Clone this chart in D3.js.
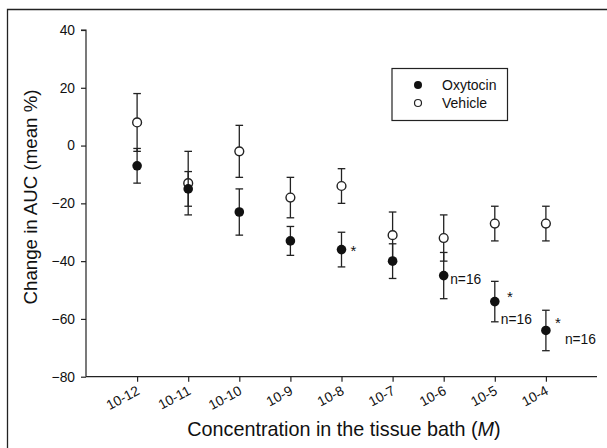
<!DOCTYPE html>
<html><head><meta charset="utf-8">
<script src="https://cdn.jsdelivr.net/npm/d3@7"></script>
<style>body{margin:0;background:#fff}svg{display:block}text{font-family:Arial,"Liberation Sans",sans-serif;fill:#111}</style>
</head><body>
<script>
const categories = ["10-12","10-11","10-10","10-9","10-8","10-7","10-6","10-5","10-4"];
const oxytocinMean = [-7,-15,-23,-33,-36,-40,-45,-54,-64];
const oxytocinErr  = [6,6,8,5,6,6,8,7,7];
const vehicleMean  = [8,-13,-2,-18,-14,-31,-32,-27,-27];
const vehicleErr   = [10,11,9,7,6,8,8,6,6];
const yTicks = [40,20,0,-20,-40,-60,-80];
const stars = ["10-8","10-5","10-4"];
const nLabels = ["10-6","10-5","10-4"];

const W=607,H=448;
const svg=d3.select("body").append("svg").attr("width",W).attr("height",H);
svg.append("path").attr("d",`M7.5,${H+2}V9.5H${W+2}`).attr("fill","none").attr("stroke","#222").attr("stroke-width",1.3);

const y=d3.scaleLinear().domain([-80,40]).range([376.7,30]);
const xi=d3.scaleLinear().domain([0,10]).range([86,597]);
const x=c=>xi(categories.indexOf(c)+1);

const col="#222";
// y axis
const gy=svg.append("g").attr("transform","translate(86,0)")
  .call(d3.axisLeft(y).tickValues(yTicks).tickSize(5).tickPadding(6).tickFormat(d3.format("d")));
gy.select(".domain").attr("stroke",col).attr("stroke-width",1.2).attr("d",`M-5,${y(40)}H0V${y(-80)}`);
gy.selectAll(".tick line").attr("stroke",col).attr("stroke-width",1.2);
gy.selectAll(".tick text").style("font-size","13.8px").attr("fill","#111");
// x axis
const gx=svg.append("g").attr("transform",`translate(0,${y(-80)})`)
  .call(d3.axisBottom(xi).tickValues(d3.range(1,10)).tickSize(5).tickFormat(i=>categories[i-1]));
gx.select(".domain").attr("stroke",col).attr("stroke-width",1.2).attr("d",`M86,0H597`);
gx.selectAll(".tick line").attr("stroke",col).attr("stroke-width",1.2);
gx.selectAll(".tick text").style("font-size","13.8px").attr("text-anchor","end")
  .attr("dy",null).attr("y",null).attr("transform","translate(3,17) rotate(-28)");

// axis titles
svg.append("text").attr("transform","translate(37,197) rotate(-90)").attr("text-anchor","middle")
  .style("font-size","18.7px").text("Change in AUC (mean %)");
const xt=svg.append("text").attr("x",344).attr("y",436).attr("text-anchor","middle").style("font-size","19.8px");
xt.append("tspan").text("Concentration in the tissue bath (");
xt.append("tspan").style("font-style","italic").text("M");
xt.append("tspan").text(")");

function series(means,errs){
  const g=svg.append("g");
  categories.forEach((c,i)=>{
    const cx=x(c),m=means[i],e=errs[i];
    g.append("line").attr("x1",cx).attr("x2",cx).attr("y1",y(m+e)).attr("y2",y(m-e)).attr("stroke",col).attr("stroke-width",1.3);
    [m+e,m-e].forEach(v=>g.append("line").attr("x1",cx-3.8).attr("x2",cx+3.8).attr("y1",y(v)).attr("y2",y(v)).attr("stroke",col).attr("stroke-width",1.3));
  });
  return g;
}
const gv=series(vehicleMean,vehicleErr);
const go=series(oxytocinMean,oxytocinErr);
gv.selectAll("circle.v").data(categories).enter().append("circle")
  .attr("cx",d=>x(d)).attr("cy",(d,i)=>y(vehicleMean[i])).attr("r",4.4)
  .attr("fill","#fff").attr("stroke",col).attr("stroke-width",1.4);
go.selectAll("circle.o").data(categories).enter().append("circle")
  .attr("cx",d=>x(d)).attr("cy",(d,i)=>y(oxytocinMean[i])).attr("r",4.8)
  .attr("fill","#111");

// stars and n labels
const starDx={"10-8":12,"10-5":15,"10-4":12};
const starDy={"10-8":-1,"10-5":-7,"10-4":-9};
stars.forEach(c=>{const i=categories.indexOf(c);
  svg.append("text").attr("x",x(c)+starDx[c]).attr("y",y(oxytocinMean[i])+starDy[c]+7).style("font-size","15px").attr("text-anchor","middle").text("*");});
const nDx={"10-6":6.5,"10-5":6,"10-4":19};
const nY={"10-6":-46.2,"10-5":-60,"10-4":-67};
nLabels.forEach(c=>{
  svg.append("text").attr("x",x(c)+nDx[c]).attr("y",y(nY[c])+5).style("font-size","13.8px").text("n=16");});

// legend
const lg=svg.append("g");
lg.append("rect").attr("x",392).attr("y",68.5).attr("width",115.5).attr("height",52).attr("fill","#fff").attr("stroke",col).attr("stroke-width",1.2);
lg.append("circle").attr("cx",418).attr("cy",85).attr("r",4).attr("fill","#111");
lg.append("circle").attr("cx",418).attr("cy",103).attr("r",3.5).attr("fill","#fff").attr("stroke",col).attr("stroke-width",1.2);
lg.append("text").attr("x",442).attr("y",90).style("font-size","14px").text("Oxytocin");
lg.append("text").attr("x",442).attr("y",107.5).style("font-size","14px").text("Vehicle");
</script>
</body></html>
